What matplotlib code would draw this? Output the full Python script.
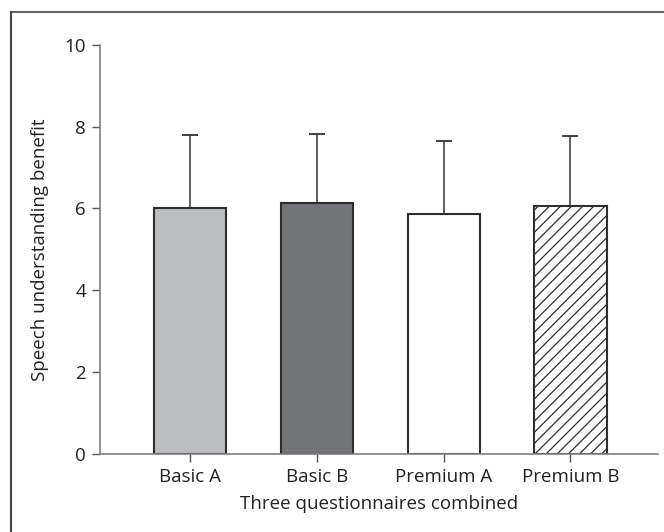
import matplotlib.pyplot as plt
from matplotlib.lines import Line2D

groups = ["Basic A", "Basic B", "Premium A", "Premium B"]
means = [6.0, 6.14, 5.86, 6.06]
upper_sd = [1.79, 1.69, 1.79, 1.72]
fills = ["#bcbdc0", "#737478", "#ffffff", "#ffffff"]
hatches = ["", "", "", "///"]

plt.rcParams['font.family'] = ['Open Sans', 'DejaVu Sans']
plt.rcParams['hatch.linewidth'] = 0.9
plt.rcParams['hatch.color'] = '#2a2a2a'

fig = plt.figure(figsize=(6.64, 5.32), dpi=100)
ax = fig.add_axes([100 / 664, 1 - 453.7 / 532, 558 / 664, (453.7 - 45) / 532])

x = range(len(groups))
bars = ax.bar(x, means, width=0.57, color=fills, edgecolor='#2e2e2e',
              linewidth=1.5, zorder=2)
for b, h in zip(bars, hatches):
    b.set_hatch(h)
ax.errorbar(x, means, yerr=[[0] * len(means), upper_sd], fmt='none',
            ecolor='#333333', elinewidth=1.1, capsize=6, capthick=1.3, zorder=1)

ax.set_xlim(-0.71, 3.69)
ax.set_ylim(0, 10)
ax.set_yticks([0, 2, 4, 6, 8, 10])
ax.set_xticks(list(x))
ax.set_xticklabels(groups)
ax.spines['top'].set_visible(False)
ax.spines['right'].set_visible(False)
for s in ['left', 'bottom']:
    ax.spines[s].set_color('#808080')
    ax.spines[s].set_linewidth(1.2)
ax.tick_params(colors='#555555', labelcolor='#222222', labelsize=13.5,
               length=6, width=1.0, pad=4)
ax.set_xlabel("Three questionnaires combined", fontsize=13.5, color='#222222', labelpad=7)
ax.set_ylabel("Speech understanding benefit", fontsize=13.5, color='#222222', labelpad=11)

# partial frame around the figure
fig.add_artist(Line2D([11 / 664, 1], [1 - 12 / 532, 1 - 12 / 532],
                      transform=fig.transFigure, color='#666666', lw=1.5))
fig.add_artist(Line2D([11 / 664, 11 / 664], [0, 1 - 12 / 532],
                      transform=fig.transFigure, color='#444444', lw=1.5))

fig.savefig("out.png", dpi=100)
